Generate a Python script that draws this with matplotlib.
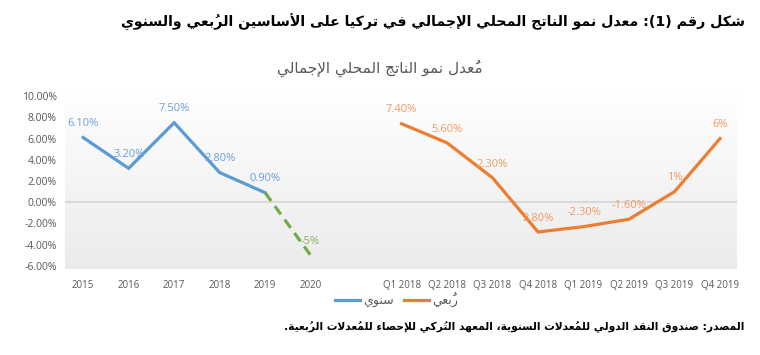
import re
import numpy as np
import matplotlib
matplotlib.use("Agg")
import matplotlib.pyplot as plt
from matplotlib.colors import LinearSegmentedColormap
from matplotlib.lines import Line2D

# ---- datos ----
annual_labels = ["2015", "2016", "2017", "2018", "2019", "2020"]
annual_vals = [6.1, 3.2, 7.5, 2.8, 0.9]
annual_text = ["6.10%", "3.20%", "7.50%", "2.80%", "0.90%"]
forecast_vals = [0.9, -5.0]          # 2019 -> 2020 (توقع)
forecast_text = "-5%"
quarter_labels = ["Q1 2018", "Q2 2018", "Q3 2018", "Q4 2018",
                  "Q1 2019", "Q2 2019", "Q3 2019", "Q4 2019"]
quarter_vals = [7.4, 5.6, 2.3, -2.8, -2.3, -1.6, 1.0, 6.0]
quarter_text = ["7.40%", "5.60%", "2.30%", "2.80%", "-2.30%", "-1.60%", "1%", "6%"]
y_ticks = [10, 8, 6, 4, 2, 0, -2, -4, -6]

title = "شكل رقم (1): معدل نمو الناتج المحلي الإجمالي في تركيا على الأساسين الرُبعي والسنوي"
subtitle = "مُعدل نمو الناتج المحلي الإجمالي"
source = "المصدر: صندوق النقد الدولي للمُعدلات السنوية، المعهد التُركي للإحصاء للمُعدلات الرُبعية."
leg_annual = "سنوي"
leg_quarter = "رُبعي"

BLUE = "#5B9BD5"
ORANGE = "#ED7D31"
GREEN = "#70AD47"
GRIS = "#595959"

# ---- mini reshaper arabe (matplotlib no hace shaping ni bidi) ----
R_JOIN = {0x622: 0xFE81, 0x623: 0xFE83, 0x624: 0xFE85, 0x625: 0xFE87, 0x627: 0xFE8D,
          0x629: 0xFE93, 0x62F: 0xFEA9, 0x630: 0xFEAB, 0x631: 0xFEAD, 0x632: 0xFEAF,
          0x648: 0xFEED, 0x649: 0xFEEF}
D_JOIN = {0x626: 0xFE89, 0x628: 0xFE8F, 0x62A: 0xFE95, 0x62B: 0xFE99, 0x62C: 0xFE9D,
          0x62D: 0xFEA1, 0x62E: 0xFEA5, 0x633: 0xFEB1, 0x634: 0xFEB5, 0x635: 0xFEB9,
          0x636: 0xFEBD, 0x637: 0xFEC1, 0x638: 0xFEC5, 0x639: 0xFEC9, 0x63A: 0xFECD,
          0x641: 0xFED1, 0x642: 0xFED5, 0x643: 0xFED9, 0x644: 0xFEDD, 0x645: 0xFEE1,
          0x646: 0xFEE5, 0x647: 0xFEE9, 0x64A: 0xFEF1}
LAM_ALEF = {0x622: 0xFEF5, 0x623: 0xFEF7, 0x625: 0xFEF9, 0x627: 0xFEFB}


def arabe(texto):
    clusters = []
    for ch in texto:
        if 0x64B <= ord(ch) <= 0x652 and clusters:
            clusters[-1][1] += ch
        else:
            clusters.append([ch, ""])
    toks = []
    i = 0
    while i < len(clusters):
        c, m = clusters[i]
        if c == "ل" and i + 1 < len(clusters) and ord(clusters[i + 1][0]) in LAM_ALEF:
            toks.append(["LA", LAM_ALEF[ord(clusters[i + 1][0])], m + clusters[i + 1][1]])
            i += 2
            continue
        o = ord(c)
        if o in D_JOIN:
            toks.append(["D", D_JOIN[o], m])
        elif o in R_JOIN:
            toks.append(["R", R_JOIN[o], m])
        else:
            toks.append(["U", c, m])
        i += 1
    out = []
    for k, (t, base, m) in enumerate(toks):
        if t == "U":
            out.append(base + m)
            continue
        prev = k > 0 and toks[k - 1][0] == "D"
        nxt = t == "D" and k + 1 < len(toks) and toks[k + 1][0] in ("D", "R", "LA")
        if t == "D":
            code = base + (3 if prev and nxt else 1 if prev else 2 if nxt else 0)
        else:
            code = base + (1 if prev else 0)
        # la marca va antes del glifo en orden visual -> queda encima de la letra
        out.append(chr(code) + m)
    vis = []
    for g in reversed(out):
        vis.append(g[1:] + g[0] if len(g) > 1 else g)
    vis = "".join(vis)
    vis = re.sub(r"[0-9]+", lambda mm: mm.group(0)[::-1], vis)
    vis = vis.translate(str.maketrans("()", ")("))
    return vis


# ---- figura ----
fig = plt.figure(figsize=(7.6, 3.55), dpi=100)
fig.patch.set_facecolor("white")
ax = fig.add_axes([0.0855, 0.242, 0.884, 0.508])

n_annual = len(annual_labels)
x_annual = np.arange(n_annual)
x_quarter = np.arange(len(quarter_labels)) + n_annual + 1
all_labels = annual_labels + [""] + quarter_labels

ax.set_xlim(-0.4, x_quarter[-1] + 0.37)
ax.set_ylim(-6.3, 10.7)

# fondo degradado
grad = LinearSegmentedColormap.from_list("g", ["#ebebeb", "#f5f5f5", "#ffffff"])
ax.imshow(np.linspace(0, 1, 256).reshape(-1, 1), aspect="auto", cmap=grad,
          extent=[-0.4, x_quarter[-1] + 0.37, -6.3, 10.7], origin="lower", zorder=0)

ax.axhline(0, color="#d9d9d9", lw=1.5, zorder=1)

ax.plot(x_annual[:len(annual_vals)], annual_vals, color=BLUE, lw=2.3,
        solid_joinstyle="miter", zorder=3)
ax.plot(x_annual[len(annual_vals) - 1:], forecast_vals, color=GREEN, lw=2.3,
        ls=(0, (3.2, 2)), zorder=3)
ax.plot(x_quarter, quarter_vals, color=ORANGE, lw=2.3, solid_joinstyle="miter", zorder=3)

lab_kw = dict(textcoords="offset points", ha="center", va="bottom",
              fontsize=8, family="Open Sans", zorder=4)
for x, v, t in zip(x_annual, annual_vals, annual_text):
    ax.annotate(t, (x, v), xytext=(0, 6), color="#6d9fd8", **lab_kw)
ax.annotate(forecast_text, (x_annual[-1], forecast_vals[-1]), xytext=(0, 6),
            color="#85b060", **lab_kw)
for x, v, t in zip(x_quarter, quarter_vals, quarter_text):
    ax.annotate(t, (x, v), xytext=(0, 6), color="#f19a60", **lab_kw)

ax.set_yticks(y_ticks)
ax.set_yticklabels([f"{v:.2f}%" for v in y_ticks], family="Open Sans", fontsize=7.5,
                   color=GRIS)
ax.set_xticks(np.arange(len(all_labels)))
ax.set_xticklabels(all_labels, family="Open Sans", fontsize=7, color=GRIS)
ax.tick_params(length=0, pad=8)
ax.tick_params(axis="y", pad=6)
for s in ax.spines.values():
    s.set_visible(False)

# leyenda
handles = [Line2D([], [], color=BLUE, lw=2.3), Line2D([], [], color=ORANGE, lw=2.3)]
fig.legend(handles, [arabe(leg_annual), arabe(leg_quarter)], loc="center",
           bbox_to_anchor=(0.522, 0.155), ncol=2, frameon=False, handlelength=2.0,
           handletextpad=0.25, columnspacing=0.8, prop=dict(family="DejaVu Sans", size=9),
           labelcolor=GRIS)

# textos
fig.text(0.98, 0.938, arabe(title), ha="right", va="center", fontsize=10.2,
         fontweight="bold", family="DejaVu Sans", color="black")
fig.text(0.5, 0.808, arabe(subtitle), ha="center", va="center", fontsize=11,
         family="DejaVu Sans", color=GRIS)
fig.text(0.98, 0.079, arabe(source), ha="right", va="center", fontsize=7.7,
         fontweight="bold", family="DejaVu Sans", color="black")

fig.savefig("out.png", dpi=100)
